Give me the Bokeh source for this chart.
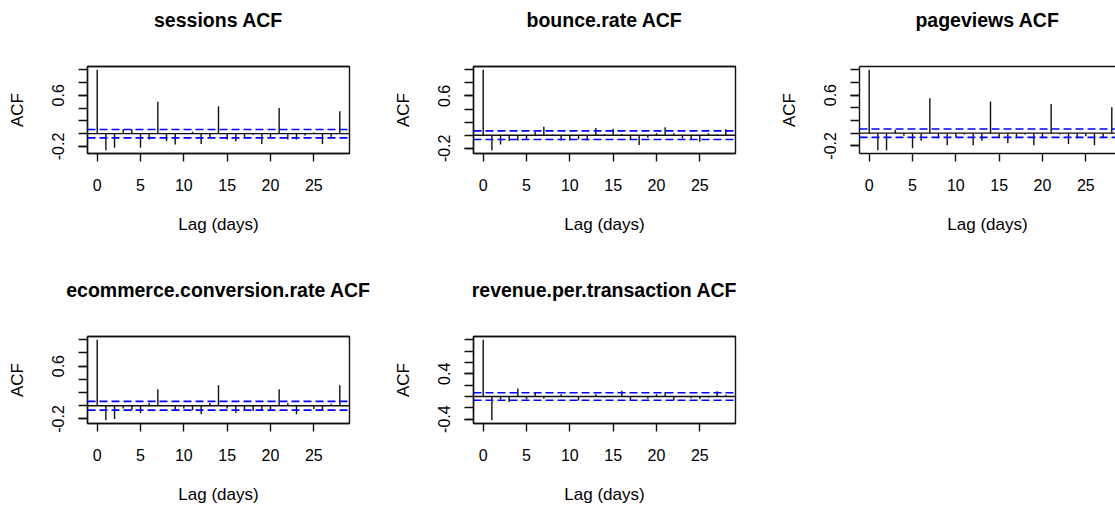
from bokeh.plotting import figure
from bokeh.layouts import column, row
from bokeh.models import FixedTicker, Span, Range1d, LinearAxis, NumeralTickFormatter
from bokeh.embed import file_html
from bokeh.resources import INLINE

# ---------------- data ----------------
lags = list(range(29))

sessions_acf = [1.00, -0.26, -0.22, 0.07, 0.07, -0.22, -0.09, 0.50, -0.12, -0.17,
                -0.01, 0.03, -0.16, -0.06, 0.43, -0.09, -0.12, -0.06, -0.02, -0.16,
                -0.06, 0.40, -0.09, -0.09, -0.03, 0.02, -0.16, -0.07, 0.35]
bounce_rate_acf = [1.00, -0.23, -0.14, -0.09, -0.08, -0.07, 0.05, 0.13, 0.01, -0.08,
                   -0.08, -0.06, -0.08, 0.11, 0.02, 0.10, 0.02, -0.07, -0.15, -0.04,
                   0.03, 0.12, 0.03, -0.05, -0.06, -0.10, 0.03, 0.01, 0.09]
pageviews_acf = [1.00, -0.27, -0.27, 0.05, -0.04, -0.24, -0.12, 0.55, -0.08, -0.19,
                 -0.06, -0.02, -0.19, -0.12, 0.50, -0.08, -0.16, -0.08, -0.02, -0.19,
                 -0.08, 0.46, -0.02, -0.17, -0.08, -0.05, -0.19, -0.08, 0.41]
ecommerce_acf = [1.00, -0.22, -0.20, -0.04, -0.07, -0.11, 0.04, 0.25, 0.01, -0.07,
                 -0.04, -0.07, -0.13, 0.04, 0.31, -0.04, -0.11, -0.07, -0.08, -0.07,
                 -0.08, 0.25, 0.04, -0.13, 0.01, -0.05, -0.07, 0.03, 0.31]
revenue_acf = [1.00, -0.42, -0.05, -0.10, 0.14, -0.05, 0.07, -0.04, 0.01, 0.04,
               0.00, -0.07, 0.01, 0.04, -0.02, 0.00, 0.10, -0.06, 0.01, -0.04,
               0.04, 0.08, -0.07, 0.01, -0.03, -0.05, -0.02, 0.09, 0.03]

titles = ["sessions ACF", "bounce.rate ACF", "pageviews ACF",
          "ecommerce.conversion.rate ACF", "revenue.per.transaction ACF"]
conf_limit = 0.066

x_ticks = [0, 5, 10, 15, 20, 25]
y_ticks_a = [-0.2, 0.0, 0.2, 0.4, 0.6, 0.8, 1.0]
y_labels_a = [-0.2, 0.6]
y_ticks_b = [-0.4, -0.2, 0.0, 0.2, 0.4, 0.6, 0.8, 1.0]
y_labels_b = [-0.4, 0.4]

x_label = "Lag (days)"
y_label = "ACF"

# ---------------- styling ----------------
FONT = "Liberation Sans"
INK = "#111111"
FRAME_W = 262
LEFT = 87
TOP = 66


def make_panel(title, vals, yticks, ylabels, fig_w, fig_h, bottom_border,
               frame_w=FRAME_W, cut_right=False):
    lo = min(min(vals), -conf_limit)
    hi = max(max(vals), conf_limit)
    ypad = 0.04 * (hi - lo)
    x0, x1 = min(lags), max(lags)
    xpad = 0.04 * (x1 - x0)
    xs, xe = x0 - xpad, x1 + xpad
    if cut_right:
        xe = xs + frame_w * (xe - xs) / FRAME_W
    p = figure(width=fig_w, height=fig_h, output_backend="svg", toolbar_location=None,
               x_range=Range1d(xs, xe), y_range=Range1d(lo - ypad, hi + ypad),
               min_border_left=LEFT, min_border_right=fig_w - LEFT - frame_w,
               min_border_top=TOP, min_border_bottom=bottom_border)
    p.background_fill_color = "white"
    p.border_fill_color = "white"
    p.xgrid.visible = False
    p.ygrid.visible = False
    if cut_right:
        p.outline_line_color = None
    else:
        p.outline_line_color = INK
        p.outline_line_width = 1.4
        p.outline_line_alpha = 1.0

    xa = p.below[0]
    ya = p.left[0]

    # bars
    p.segment(x0=lags, y0=[0] * len(lags), x1=lags, y1=vals,
              line_color=INK, line_width=1.4)
    p.add_layout(Span(location=0, dimension="width", line_color=INK, line_width=1.4))
    for c in (conf_limit, -conf_limit):
        p.add_layout(Span(location=c, dimension="width", line_color="#0000ff",
                          line_width=1.6, line_dash="8 4"))

    # title drawn as the label of an empty top axis (its line is the top border)
    ta = LinearAxis(ticker=FixedTicker(ticks=[], minor_ticks=[]), axis_label=title)
    ta.major_tick_out = 0
    ta.major_tick_in = 0
    ta.minor_tick_out = 0
    ta.minor_tick_in = 0
    ta.major_label_standoff = 0
    ta.axis_label_standoff = 36
    ta.axis_line_color = INK
    ta.axis_line_width = 1.4
    ta.axis_label_text_font = FONT
    ta.axis_label_text_font_size = "19.5px"
    ta.axis_label_text_font_style = "bold"
    ta.axis_label_text_color = "black"
    p.add_layout(ta, "above")

    xa.ticker = FixedTicker(ticks=x_ticks, minor_ticks=[])
    xa.axis_label = x_label
    ya.ticker = FixedTicker(ticks=ylabels, minor_ticks=yticks)
    ya.formatter = NumeralTickFormatter(format="0.0")
    ya.axis_label = y_label
    ya.major_label_orientation = "vertical"
    for ax in (xa, ya):
        ax.axis_line_color = INK
        ax.axis_line_width = 1.4
        ax.major_tick_line_color = INK
        ax.major_tick_line_width = 1.4
        ax.minor_tick_line_color = INK
        ax.minor_tick_line_width = 1.4
        ax.major_tick_in = 0
        ax.minor_tick_in = 0
        ax.major_label_text_font = FONT
        ax.major_label_text_font_size = "16px"
        ax.major_label_text_color = "black"
        ax.axis_label_text_font = FONT
        ax.axis_label_text_font_size = "17px"
        ax.axis_label_text_font_style = "normal"
        ax.axis_label_text_color = "black"
    xa.major_tick_out = 8
    xa.major_label_standoff = 17
    xa.axis_label_standoff = 21
    ya.major_tick_out = 9
    ya.minor_tick_out = 9
    ya.major_label_standoff = 14
    ya.axis_label_standoff = 23
    return p


W = 386
p1 = make_panel(titles[0], sessions_acf, y_ticks_a, y_labels_a, W, 270, 117)
p2 = make_panel(titles[1], bounce_rate_acf, y_ticks_a, y_labels_a, W, 270, 117)
p3 = make_panel(titles[2], pageviews_acf, y_ticks_a, y_labels_a, 1115 - 2 * W, 270, 117,
                frame_w=1115 - 2 * W - LEFT, cut_right=True)
p4 = make_panel(titles[3], ecommerce_acf, y_ticks_a, y_labels_a, W, 236, 83)
p5 = make_panel(titles[4], revenue_acf, y_ticks_b, y_labels_b, W, 236, 83)

layout = column(row(p1, p2, p3, spacing=0), row(p4, p5, spacing=0), spacing=0)

with open("out.html", "w") as f:
    f.write(file_html(layout, INLINE))
